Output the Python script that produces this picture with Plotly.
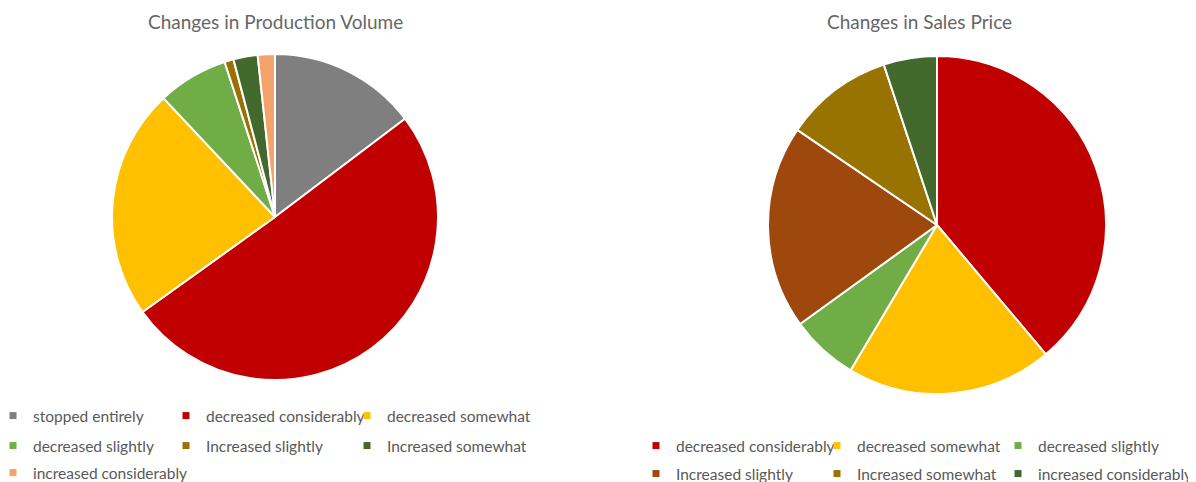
import plotly.graph_objects as go

# ---- data ----
prod_labels = ["stopped entirely", "decreased considerably", "decreased somewhat",
               "decreased slightly", "Increased slightly", "Increased somewhat",
               "increased considerably"]
prod_values = [14.7, 50.4, 22.9, 7.0, 0.9, 2.4, 1.7]
prod_colors = ["#7F7F7F", "#C00000", "#FFC000", "#70AD47", "#9C7000", "#43682B", "#F4A46A"]

price_labels = ["decreased considerably", "decreased somewhat", "decreased slightly",
                "Increased slightly", "Increased somewhat", "increased considerably"]
price_values = [38.9, 19.7, 6.5, 19.5, 10.4, 5.1]
price_colors = ["#C00000", "#FFC000", "#70AD47", "#9E480E", "#997300", "#43682B"]

titles = ["Changes in Production Volume", "Changes in Sales Price"]

# the page body has an 8px margin, so the figure is sized to fill the rest of the window
OFF = 8
W, H = 1196 - OFF, 482 - OFF
TEXT = "#595959"
LEGFONT = dict(family="Lato", size=15.5, color=TEXT)


def fx(p):
    return (p - OFF) / W


def fy(p):
    return 1 - (p - OFF) / H


fig = go.Figure()

fig.add_trace(go.Pie(
    labels=prod_labels, values=prod_values, sort=False, direction="clockwise",
    rotation=0, marker=dict(colors=prod_colors, line=dict(color="white", width=2)),
    textinfo="none", showlegend=False,
    domain=dict(x=[fx(112), fx(438)], y=[fy(380), fy(54)]),
))
fig.add_trace(go.Pie(
    labels=price_labels, values=price_values, sort=False, direction="clockwise",
    rotation=0, marker=dict(colors=price_colors, line=dict(color="white", width=2)),
    textinfo="none", showlegend=False,
    domain=dict(x=[fx(768), fx(1106)], y=[fy(394), fy(56)]),
))


# legend entries (one legend per row so that columns line up like the original)
def add_rows(labels, colors, rows, first_leg, first_w=None):
    idx = 0
    for r, n in enumerate(rows):
        leg = "legend" if first_leg + r == 1 else f"legend{first_leg + r}"
        for k in range(n):
            if k == n - 1:
                lw = 165
            elif k == 0 and first_w:
                lw = first_w
            else:
                lw = None
            fig.add_trace(go.Scatter(
                x=[None], y=[None], mode="markers", name=labels[idx],
                marker=dict(symbol="square", size=7, color=colors[idx]),
                legend=leg, showlegend=True, hoverinfo="skip",
                legendwidth=lw))
            idx += 1


add_rows(prod_labels, prod_colors, [3, 3, 1], 1, first_w=143)
add_rows(price_labels, price_colors, [3, 3], 4)


def leg(x_px, y_px, indent=0, ew=136):
    return dict(orientation="h", x=fx(x_px), xanchor="left", y=fy(y_px),
                yanchor="middle", font=LEGFONT, entrywidth=ew, entrywidthmode="pixels",
                bgcolor="rgba(0,0,0,0)", itemclick=False, itemdoubleclick=False,
                tracegroupgap=0, indentation=indent)


fig.update_layout(
    width=W, height=H, margin=dict(l=0, r=0, t=0, b=0, autoexpand=False),
    paper_bgcolor="white", plot_bgcolor="white",
    xaxis=dict(visible=False), yaxis=dict(visible=False),
    legend=leg(OFF, 416, -15, 151), legend2=leg(OFF, 446, -15, 151),
    legend3=leg(OFF, 473, -15, 151),
    legend4=leg(636, 446), legend5=leg(636, 474),
    annotations=[
        dict(text=titles[0], x=fx(275), y=fy(22), xref="paper", yref="paper",
             xanchor="center", yanchor="middle", showarrow=False,
             font=dict(family="Lato", size=19, color="#666666")),
        dict(text=titles[1], x=fx(920), y=fy(22), xref="paper", yref="paper",
             xanchor="center", yanchor="middle", showarrow=False,
             font=dict(family="Lato", size=19, color="#666666")),
    ],
)

fig.write_html("out.html")
